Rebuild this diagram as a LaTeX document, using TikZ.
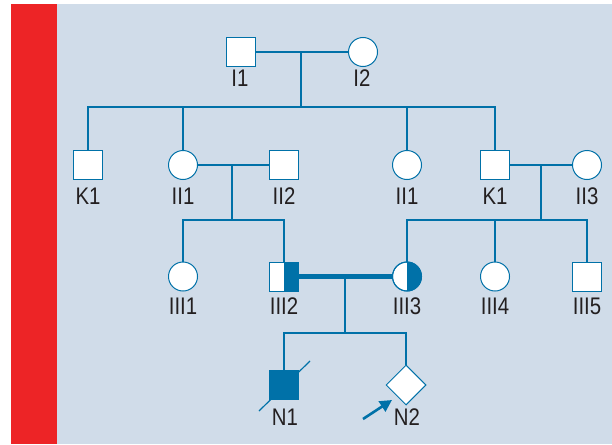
\documentclass[tikz,border=0pt]{standalone}
\usepackage{fontspec}
\setmainfont{Liberation Sans}[FakeStretch=0.85]
\usetikzlibrary{shapes.geometric,arrows.meta}
\definecolor{pblue}{RGB}{0,113,168}
\definecolor{pbg}{RGB}{208,220,233}
\definecolor{pred}{RGB}{237,36,38}
\definecolor{ptext}{RGB}{35,31,32}
\begin{document}
\begin{tikzpicture}[x=1pt,y=-1pt,
  male/.style={draw=pblue,fill=white,line width=1pt,minimum size=29pt,inner sep=0pt,rectangle},
  female/.style={draw=pblue,fill=white,line width=1pt,minimum size=29pt,inner sep=0pt,circle},
  unk/.style={draw=pblue,fill=white,line width=1pt,diamond,minimum size=40pt,inner sep=0pt},
  lbl/.style={text=ptext,font=\fontsize{24}{24}\selectfont,inner sep=0pt},
  rel/.style={draw=pblue,line width=2.5pt,line join=miter},
  couple/.style={draw=pblue,line width=5pt}]
\useasboundingbox (0,0) rectangle (612,444);
\fill[white] (0,0) rectangle (612,444);
\fill[pbg] (57,4) rectangle (612,444);
\fill[pred] (11,4) rectangle (57,444);

% generation I
\node[male] (I1) at (241,52) {};
\node[female] (I2) at (363,52) {};
\node[lbl] (lI1) at (240,78) {I1};
\node[lbl] (lI2) at (362,78) {I2};

% generation II
\node[male] (K1a) at (88,165) {};
\node[female] (II1a) at (183,165) {};
\node[male] (II2) at (284,165) {};
\node[female] (II1b) at (407,165) {};
\node[male] (K1b) at (495,165) {};
\node[female] (II3) at (587,165) {};
\node[lbl] (lK1a) at (88,196) {K1};
\node[lbl] (lII1a) at (183,196) {II1};
\node[lbl] (lII2) at (284,196) {II2};
\node[lbl] (lII1b) at (407,196) {II1};
\node[lbl] (lK1b) at (495,196) {K1};
\node[lbl] (lII3) at (587,196) {II3};

% generation III
\node[female] (III1) at (183,276.5) {};
\node[male] (III2) at (284,276.5) {};
\node[female] (III3) at (407,276.5) {};
\node[female] (III4) at (495,276.5) {};
\node[male] (III5) at (587,276.5) {};
\begin{scope}
  \clip (III2.north) rectangle (III2.south east);
  \fill[pblue] (III2.north) rectangle (III2.south east);
\end{scope}
\begin{scope}
  \clip (III3.center) circle (14.5pt);
  \fill[pblue] (407,256) rectangle (425,297);
\end{scope}
\node[male,fill=none] (III2b) at (III2) {};
\node[female,fill=none] (III3b) at (III3) {};
\node[lbl] (lIII1) at (183,306) {III1};
\node[lbl] (lIII2) at (284,306) {III2};
\node[lbl] (lIII3) at (407,306) {III3};
\node[lbl] (lIII4) at (495,306) {III4};
\node[lbl] (lIII5) at (587,306) {III5};

% generation IV
\node[male,fill=pblue] (N1) at (284,385) {};
\node[unk] (N2) at (406,385) {};
\node[lbl] (lN1) at (285,417) {N1};
\node[lbl] (lN2) at (407,417) {N2};
\coordinate (sl1) at (259,411);
\coordinate (sl2) at (310,361);
\draw[pblue,line width=1.2pt] (sl1) -- (sl2);
\coordinate (ar1) at (363,419);
\coordinate (ar2) at (392,400);
\draw[pblue,line width=2.6pt,-{Triangle[length=12pt,width=12pt]}] (ar1) -- (ar2);

% relationships
\coordinate (d1) at (301,52);
\coordinate (s1) at (301,107);
\draw[rel] (I1) -- (I2);
\draw[rel] (d1) -- (s1);
\draw[rel] (K1a) |- (s1) -| (K1b);
\draw[rel] (II1a) -- (II1a |- s1);
\draw[rel] (II1b) -- (II1b |- s1);

\coordinate (d2) at (232,165);
\coordinate (s2) at (232,220);
\draw[rel] (II1a) -- (II2);
\draw[rel] (d2) -- (s2);
\draw[rel] (III1) |- (s2) -| (III2);

\coordinate (d3) at (541,165);
\coordinate (s3) at (541,220);
\draw[rel] (K1b) -- (II3);
\draw[rel] (d3) -- (s3);
\draw[rel] (III3) |- (s3) -| (III5);
\draw[rel] (III4) -- (III4 |- s3);

\coordinate (d4) at (345,276.5);
\coordinate (s4) at (345,333);
\draw[couple] (III2) -- (III3);
\draw[rel] (d4) -- (s4);
\draw[rel] (N1) |- (s4) -| (N2);
\end{tikzpicture}
\end{document}
